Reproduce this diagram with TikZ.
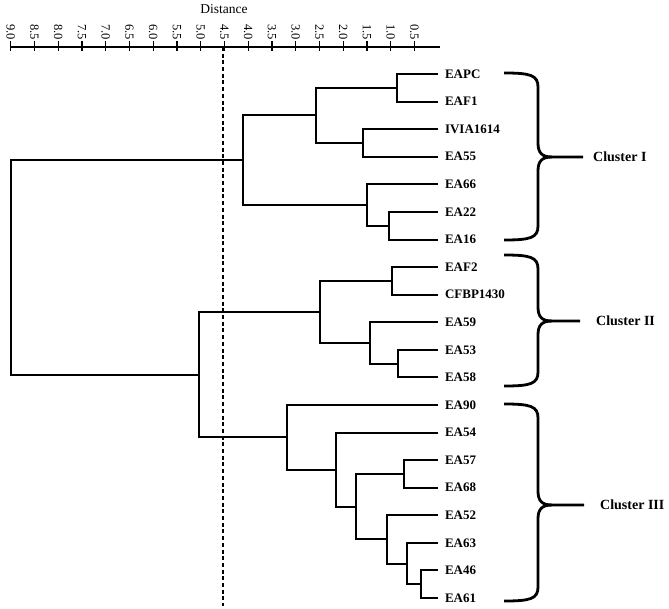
\documentclass[tikz,border=0pt]{standalone}
\usepackage{fontspec}
\setmainfont{Liberation Serif}
\begin{document}
\begin{tikzpicture}[x=1bp,y=-1bp,
  branch/.style={line width=2bp},
  leaf/.style={anchor=west, inner xsep=7bp, inner ysep=0pt, outer sep=0pt,
    font=\fontsize{13bp}{15bp}\selectfont\bfseries},
  clus/.style={anchor=west, inner sep=0pt, font=\fontsize{14bp}{16bp}\selectfont\bfseries},
  brace/.style={line width=2.8bp, line cap=butt},
  ticklab/.style={rotate=-90, anchor=east, inner sep=0pt, font=\fontsize{12.5bp}{14bp}\selectfont},
  axis/.style={line width=1.1bp}]
\useasboundingbox (0,0) rectangle (669,609);
% axis
\node[font=\fontsize{13.5bp}{15bp}\selectfont] (dist) at (224,9) {Distance};
\coordinate (axL) at (10.7,47);
\coordinate (axR) at (440,47);
\draw[axis] (axL) -- (axR);
\foreach \k/\lab in {0/9.0,1/8.5,2/8.0,3/7.5,4/7.0,5/6.5,6/6.0,7/5.5,8/5.0,9/4.5,10/4.0,11/3.5,12/3.0,13/2.5,14/2.0,15/1.5,16/1.0,17/0.5}{
  \node[ticklab] (t\k) at ({10.7+\k*23.75},40) {\lab};
  \draw[axis] (t\k.east) ++(0,1) -- ++(0,10);
}
% cut line
\coordinate (cutT) at (223,47);
\coordinate (cutB) at (223,606);
\draw[line width=1.3bp, dash pattern=on 4bp off 2.7bp] (cutT) -- (cutB);
% leaves
\node[leaf] (EAPC) at (438,74) {EAPC};
\node[leaf] (EAF1) at (438,101.6) {EAF1};
\node[leaf] (IVIA) at (438,129.2) {IVIA1614};
\node[leaf] (EA55) at (438,156.7) {EA55};
\node[leaf] (EA66) at (438,184.3) {EA66};
\node[leaf] (EA22) at (438,211.9) {EA22};
\node[leaf] (EA16) at (438,239.5) {EA16};
\node[leaf] (EAF2) at (438,267.1) {EAF2};
\node[leaf] (CFBP) at (438,294.6) {CFBP1430};
\node[leaf] (EA59) at (438,322.2) {EA59};
\node[leaf] (EA53) at (438,349.8) {EA53};
\node[leaf] (EA58) at (438,377.4) {EA58};
\node[leaf] (EA90) at (438,405) {EA90};
\node[leaf] (EA54) at (438,432.5) {EA54};
\node[leaf] (EA57) at (438,460.1) {EA57};
\node[leaf] (EA68) at (438,487.7) {EA68};
\node[leaf] (EA52) at (438,515.3) {EA52};
\node[leaf] (EA63) at (438,542.9) {EA63};
\node[leaf] (EA46) at (438,570.4) {EA46};
\node[leaf] (EA61) at (438,598) {EA61};
% internal nodes
\coordinate (a1) at (397.3,87.8);
\coordinate (a2) at (363.3,143);
\coordinate (a3) at (315.7,115.4);
\coordinate (a4) at (389.3,225.7);
\coordinate (a5) at (366.7,205);
\coordinate (a6) at (243.3,160.2);
\coordinate (b1) at (391.7,280.9);
\coordinate (b2) at (398.3,363.6);
\coordinate (b3) at (370,342.9);
\coordinate (b4) at (320,311.9);
\coordinate (c1) at (420.7,584.2);
\coordinate (c2) at (406.7,563.5);
\coordinate (c3) at (387.3,539.4);
\coordinate (c4) at (404,473.9);
\coordinate (c5) at (356,506.6);
\coordinate (c6) at (336,469.6);
\coordinate (c7) at (286.7,437.3);
\coordinate (d1) at (199.3,374.6);
\coordinate (root) at (11,267.4);
\begin{scope}[branch]
\draw (a1) |- (EAPC.west); \draw (a1) |- (EAF1.west);
\draw (a2) |- (IVIA.west); \draw (a2) |- (EA55.west);
\draw (a3) |- (a1); \draw (a3) |- (a2);
\draw (a4) |- (EA22.west); \draw (a4) |- (EA16.west);
\draw (a5) |- (EA66.west); \draw (a5) |- (a4);
\draw (a6) |- (a3); \draw (a6) |- (a5);
\draw (b1) |- (EAF2.west); \draw (b1) |- (CFBP.west);
\draw (b2) |- (EA53.west); \draw (b2) |- (EA58.west);
\draw (b3) |- (EA59.west); \draw (b3) |- (b2);
\draw (b4) |- (b1); \draw (b4) |- (b3);
\draw (c1) |- (EA46.west); \draw (c1) |- (EA61.west);
\draw (c2) |- (EA63.west); \draw (c2) |- (c1);
\draw (c3) |- (EA52.west); \draw (c3) |- (c2);
\draw (c4) |- (EA57.west); \draw (c4) |- (EA68.west);
\draw (c5) |- (c4); \draw (c5) |- (c3);
\draw (c6) |- (EA54.west); \draw (c6) |- (c5);
\draw (c7) |- (EA90.west); \draw (c7) |- (c6);
\draw (d1) |- (b4); \draw (d1) |- (c7);
\draw (root) |- (a6); \draw (root) |- (d1);
\end{scope}
% braces
\newcommand{\mybrace}[4]{% top, bottom, mid, tipx
  \draw[brace] (504,#1) .. controls (530,#1) and (538,#1+2) .. (538,#1+14)
    -- (538,#3-14) .. controls (538,#3-4) and (542,#3) .. (552,#3) -- (#4,#3);
  \draw[brace] (552,#3) .. controls (542,#3) and (538,#3+4) .. (538,#3+14)
    -- (538,#2-14) .. controls (538,#2-2) and (530,#2) .. (504,#2);
}
\mybrace{73}{240}{157}{583}
\mybrace{255}{386}{321}{580}
\mybrace{404}{601}{505}{584}
\node[clus] (cl1) at (593,157) {Cluster I};
\node[clus] (cl2) at (596,321) {Cluster II};
\node[clus] (cl3) at (600,505) {Cluster III};
\end{tikzpicture}
\end{document}
